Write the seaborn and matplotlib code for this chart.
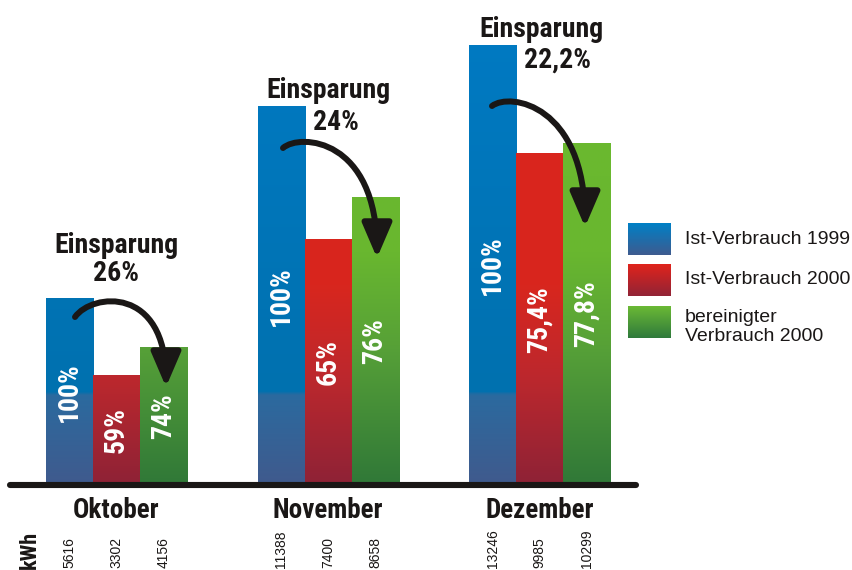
import numpy as np
import pandas as pd
import matplotlib
matplotlib.use('Agg')
import matplotlib.pyplot as plt
import matplotlib.transforms as mtransforms
from matplotlib import font_manager as fm
from matplotlib.patches import FancyArrowPatch
from matplotlib.path import Path
import seaborn as sns

# Daten
months = ['Oktober', 'November', 'Dezember']
series = ['Ist-Verbrauch 1999', 'Ist-Verbrauch 2000', 'bereinigter Verbrauch 2000']
legend_labels = ['Ist-Verbrauch 1999', 'Ist-Verbrauch 2000', 'bereinigter\nVerbrauch 2000']
kwh_1999 = [5616, 11388, 13246]
kwh_2000 = [3302, 7400, 9985]
kwh_bereinigt = [4156, 8658, 10299]
pct_1999 = ['100%', '100%', '100%']
pct_2000 = ['59%', '65%', '75,4%']
pct_bereinigt = ['74%', '76%', '77,8%']
einsparung = ['26%', '24%', '22,2%']

df = pd.DataFrame({
    'Monat': months * 3,
    'Reihe': np.repeat(series, 3),
    'kWh': kwh_1999 + kwh_2000 + kwh_bereinigt,
})
values = [kwh_1999, kwh_2000, kwh_bereinigt]
pct_labels = [pct_1999, pct_2000, pct_bereinigt]

# Farbverlaeufe (kWh-Stopps, Farben)
gradients = [
    ([0, 2700, 2800, 14000], ['#405a8d', '#2b6a9f', '#0071af', '#007ac3']),
    ([0, 3300, 6000, 14000], ['#8e2236', '#bd282d', '#d8261e', '#dc251c']),
    ([0, 4200, 7000, 14000], ['#307838', '#57a137', '#69b72f', '#6cba2f']),
]
swatch_cols = [('#0080c6', '#3e5b8f'), ('#e0241c', '#912336'), ('#6bb935', '#2f7a3c')]

sns.set_style('white')
avail = {f.name for f in fm.fontManager.ttflist}
NARROW, SCALE = 'DejaVu Sans', 0.85
for name, s in [('Roboto Condensed', 1.0), ('Liberation Sans Narrow', 1.0), ('Roboto', 0.9)]:
    if name in avail:
        NARROW, SCALE = name, s
        break
plt.rcParams['font.family'] = ['Liberation Sans', 'DejaVu Sans']

W, H = 853, 570
fig = plt.figure(figsize=(W / 100, H / 100), dpi=100)
ax = fig.add_axes([10 / W, (H - 485) / H, 626 / W, 485 / H])
pix = mtransforms.Affine2D().scale(1 / W, -1 / H).translate(0, 1) + fig.transFigure
x_pix = mtransforms.blended_transform_factory(ax.transData, pix)

sns.barplot(data=df, x='Monat', y='kWh', hue='Reihe', order=months, hue_order=series,
            palette=[c[0] for c in swatch_cols], width=0.6667, saturation=1,
            errorbar=None, legend=False, linewidth=0, ax=ax)


def grad_image(stops, cols, h, n=200):
    ys = np.linspace(0, h, n)
    rgb = np.array([matplotlib.colors.to_rgb(c) for c in cols])
    img = np.stack([np.interp(ys, stops, rgb[:, k]) for k in range(3)], axis=-1)
    return img[:, None, :]


for i, cont in enumerate(ax.containers):
    stops, cols = gradients[i]
    for bar in cont:
        x0, w, h = bar.get_x(), bar.get_width(), bar.get_height()
        ax.imshow(grad_image(stops, cols, h), origin='lower', aspect='auto',
                  extent=[x0, x0 + w, 0, h], zorder=3, interpolation='bilinear')

ax.set_xlim(-0.5035, 2.456)
ax.set_ylim(0, 14608)
ax.axis('off')
ax.axhline(0, color='#1a1716', lw=4.4, clip_on=False, zorder=5)

# Beschriftungen in den Balken und kWh-Werte
for i, cont in enumerate(ax.containers):
    for j, bar in enumerate(cont):
        xc = bar.get_x() + bar.get_width() / 2
        ax.text(xc, bar.get_height() / 2, pct_labels[i][j], rotation=90, ha='center',
                va='center', color='white', fontsize=20 * SCALE, fontweight='bold',
                family=NARROW, zorder=6)
        ax.text(xc, 568, str(values[i][j]), rotation=90, ha='center', va='bottom',
                fontsize=10, color='#1a1716', transform=x_pix)

# Monatsnamen
for j, m in enumerate(months):
    ax.text(j, 518, m, ha='center', va='baseline', fontsize=19.5 * SCALE, fontweight='bold',
            family=NARROW, color='#1a1716', transform=x_pix)
fig.text(30, 569, 'kWh', rotation=90, ha='center', va='bottom', fontsize=16 * SCALE,
         fontweight='bold', family=NARROW, color='#1a1716', transform=pix)

# Einsparung
title_pos = [(116.5, 253, 116.5, 281), (328, 98, 336, 130), (541, 37, 558, 68)]
for j, (tx, ty, px, py) in enumerate(title_pos):
    fig.text(tx, ty, 'Einsparung', ha='center', va='baseline', fontsize=20 * SCALE,
             fontweight='bold', family=NARROW, color='#1a1716', transform=pix)
    fig.text(px, py, einsparung[j], ha='center', va='baseline', fontsize=20 * SCALE,
             fontweight='bold', family=NARROW, color='#1a1716', transform=pix)

# Pfeile als kubische Kurven (Pixel: Start, Kontrollpunkte, Spitze)
arrows = [
    [(75, 317), (92, 293), (166, 285), (166, 387)],
    [(283, 148), (300, 133), (377, 138), (377, 258)],
    [(492, 106), (510, 92), (585, 105), (585, 227)],
]
for pts in arrows:
    path = Path(pts, [Path.MOVETO, Path.CURVE4, Path.CURVE4, Path.CURVE4])
    arr = FancyArrowPatch(path=path, arrowstyle='-|>,head_length=1.05,head_width=0.45',
                          mutation_scale=20, lw=4.3, color='#1a1716',
                          zorder=7, transform=pix)
    fig.add_artist(arr)

# Legende
leg = fig.add_axes([0, 0, 1, 1])
leg.axis('off')
swatch_y = [(223, 255), (264, 296), (306, 338)]
text_y = [240, 280, 327]
for (top, bot), (ct, cb), lab, ty in zip(swatch_y, swatch_cols, legend_labels, text_y):
    leg.imshow(grad_image([0, 1], [cb, ct], 1), origin='lower', aspect='auto',
               extent=[628, 671, bot, top], interpolation='bilinear')
    leg.text(685, ty, lab, ha='left', va='center', fontsize=14, color='#1a1716',
             linespacing=1.1)
leg.set_xlim(0, W)
leg.set_ylim(H, 0)

fig.savefig('out.png', dpi=100)
